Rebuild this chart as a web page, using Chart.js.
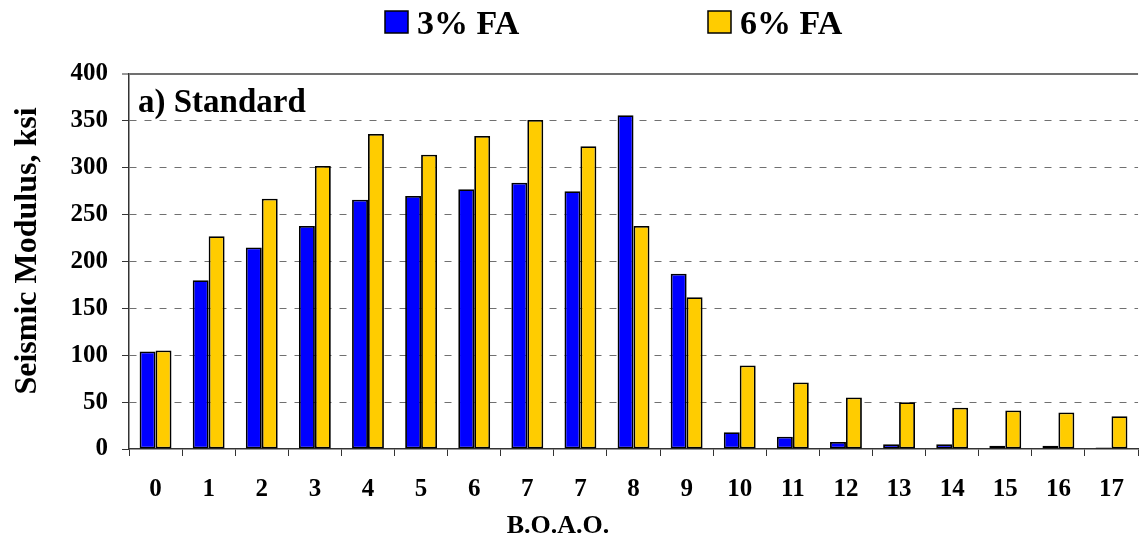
<!DOCTYPE html>
<html>
<head>
<meta charset="utf-8">
<title>Seismic Modulus - Standard</title>
<script src="https://cdn.jsdelivr.net/npm/chart.js@4/dist/chart.umd.min.js"></script>
<style>
  html, body { margin: 0; padding: 0; background: #fff; }
  #wrap { width: 1143px; height: 538px; position: relative; }
</style>
</head>
<body>
<div id="wrap"><canvas id="chart"></canvas></div>
<script>
// data
const categories = ['0', '1', '2', '3', '4', '5', '6', '7', '7', '8', '9', '10', '11', '12', '13', '14', '15', '16', '17'];
const fa3 = [104, 180, 215, 238, 266, 270, 277, 284, 275, 356, 187, 18, 13, 7.5, 5, 5, 3.5, 3.5, 1.5];
const fa6 = [105, 227, 267, 302, 336, 314, 334, 351, 323, 238, 162, 89, 71, 55, 50, 44, 41, 39, 35];
const seriesLabels = ['3% FA', '6% FA'];
const yMin = 0;
const yMax = 400;
const yStep = 50;

const FONT = "'Liberation Serif', 'Times New Roman', serif";
const BLUE = '#0000ff';
const YELLOW = '#ffcc00';

// legend, axis titles and panel label
const textPlugin = {
  id: 'textPlugin',
  afterDraw(chart) {
    const ctx = chart.ctx;
    ctx.save();
    ctx.fillStyle = '#000';

    // legend
    const legendX = [385, 708];
    chart.data.datasets.forEach((ds, i) => {
      const x = legendX[i];
      ctx.fillStyle = ds.backgroundColor;
      ctx.fillRect(x, 11, 23, 22);
      ctx.lineWidth = 1.5;
      ctx.strokeStyle = '#000';
      ctx.strokeRect(x, 11, 23, 22);
      ctx.fillStyle = '#000';
      ctx.font = 'bold 34px ' + FONT;
      ctx.textAlign = 'left';
      ctx.textBaseline = 'alphabetic';
      ctx.fillText(ds.label, x + 32, 34);
    });

    // panel label
    ctx.font = 'bold 33px ' + FONT;
    ctx.textAlign = 'left';
    ctx.textBaseline = 'alphabetic';
    ctx.fillText('a) Standard', 138, 112);

    // x title
    ctx.font = 'bold 26px ' + FONT;
    ctx.textAlign = 'center';
    ctx.fillText('B.O.A.O.', 558, 533);

    // y title
    ctx.translate(28, 251);
    ctx.rotate(-Math.PI / 2);
    ctx.font = 'bold 32px ' + FONT;
    ctx.textAlign = 'center';
    ctx.textBaseline = 'middle';
    ctx.fillText('Seismic Modulus, ksi', 0, 0);
    ctx.restore();
  }
};

const gridDash = (c) => (c.tick && c.tick.value > yMin && c.tick.value < yMax) ? [7, 8] : [];

new Chart(document.getElementById('chart'), {
  type: 'bar',
  data: {
    labels: categories,
    datasets: [
      {
        label: seriesLabels[0],
        data: fa3,
        backgroundColor: BLUE,
        borderColor: '#000',
        borderWidth: 1.8,
        borderSkipped: false
      },
      {
        label: seriesLabels[1],
        data: fa6,
        backgroundColor: YELLOW,
        borderColor: '#000',
        borderWidth: 1.8,
        borderSkipped: false
      }
    ]
  },
  options: {
    responsive: true,
    maintainAspectRatio: false,
    animation: false,
    datasets: {
      bar: { categoryPercentage: 0.6, barPercentage: 1.0 }
    },
    layout: { padding: { top: 74, right: 0, bottom: 0, left: 0 } },
    plugins: {
      legend: { display: false },
      title: { display: false },
      tooltip: { enabled: false }
    },
    scales: {
      x: {
        grid: {
          offset: true,
          drawOnChartArea: false,
          drawTicks: true,
          tickLength: 7,
          tickColor: '#333',
          tickWidth: 1
        },
        border: { color: '#333', width: 1.5 },
        ticks: {
          color: '#000',
          font: { family: FONT, size: 25, weight: 'bold' },
          padding: 19,
          maxRotation: 0,
          autoSkip: false
        },
        afterFit(scale) { scale.height = 89; }
      },
      y: {
        min: yMin,
        max: yMax,
        ticks: {
          stepSize: yStep,
          color: '#000',
          font: { family: FONT, size: 25, weight: 'bold' },
          padding: 14
        },
        grid: {
          color: (c) => (c.tick && c.tick.value === yMin) ? 'rgba(0,0,0,0)' : '#707070',
          lineWidth: (c) => (c.tick && c.tick.value === yMax) ? 2 : 1,
          borderDash: gridDash,
          tickColor: '#333',
          tickLength: 7,
          tickWidth: 1
        },
        border: { color: '#333', width: 1.5, dash: gridDash },
        afterFit(scale) { scale.width = 129; }
      }
    }
  },
  plugins: [textPlugin]
});
</script>
</body>
</html>
